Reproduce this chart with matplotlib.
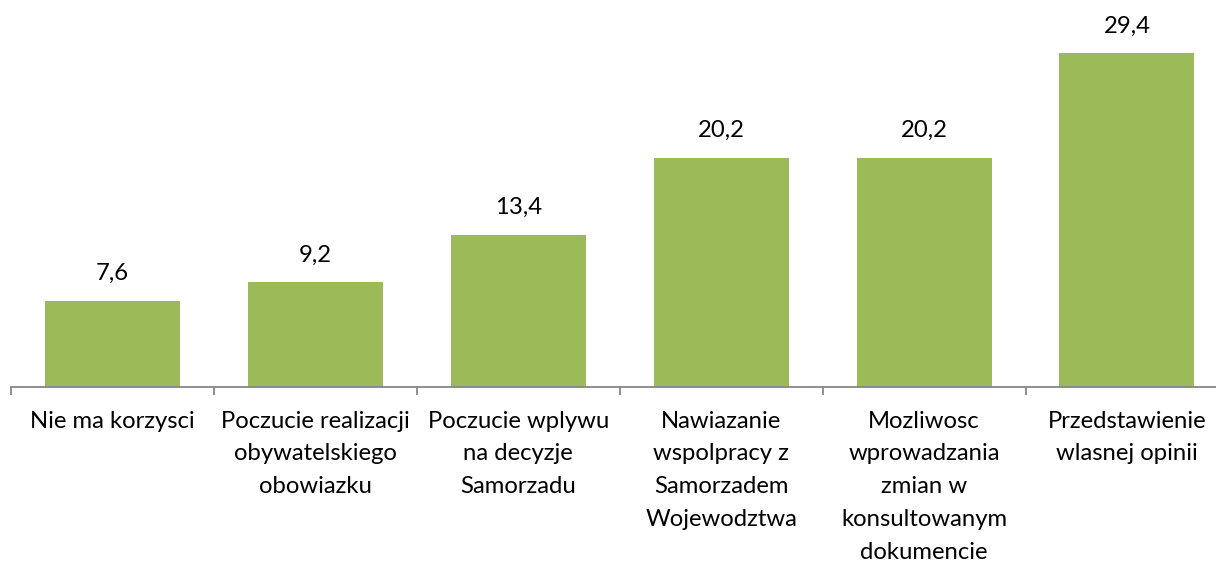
import numpy as np
import matplotlib.pyplot as plt

categories = ["Nie ma korzysci",
              "Poczucie realizacji\nobywatelskiego\nobowiazku",
              "Poczucie wplywu\nna decyzje\nSamorzadu",
              "Nawiazanie\nwspolpracy z\nSamorzadem\nWojewodztwa",
              "Mozliwosc\nwprowadzania\nzmian w\nkonsultowanym\ndokumencie",
              "Przedstawienie\nwlasnej opinii"]
values = [7.6, 9.2, 13.4, 20.2, 20.2, 29.4]
value_labels = ["7,6", "9,2", "13,4", "20,2", "20,2", "29,4"]

W, H = 1216, 563
plt.rcParams['font.family'] = ['Lato', 'DejaVu Sans']
fig = plt.figure(figsize=(W / 100, H / 100), dpi=100)
# axes placed in pixel terms; right edge runs past the figure like the original
ax = fig.add_axes([11 / W, (H - 387) / H, 1217.4 / W, 340.8 / H])

x = np.arange(len(values))
ax.bar(x, values, width=0.665, color='#9BBB59', zorder=2)
for xi, v, lab in zip(x, values, value_labels):
    ax.annotate(lab, (xi, v), xytext=(0, 19.5), textcoords='offset points',
                ha='center', va='center', fontsize=17.2, color='black')

ax.set_xlim(-0.5, len(values) - 0.5)
ax.set_ylim(0, 30)
ax.set_yticks([])
for s in ['top', 'right', 'left']:
    ax.spines[s].set_visible(False)
ax.spines['bottom'].set_color('#868686')
ax.spines['bottom'].set_linewidth(1.3)

ax.set_xticks(x)
ax.set_xticklabels(categories, fontsize=17.2, linespacing=1.69, va='top')
ax.tick_params(axis='x', which='major', length=0, pad=17)
ax.set_xticks(np.arange(len(values) + 1) - 0.5, minor=True)
ax.tick_params(axis='x', which='minor', length=6, width=1.3, color='#868686')

fig.savefig('out.png', dpi=100)
